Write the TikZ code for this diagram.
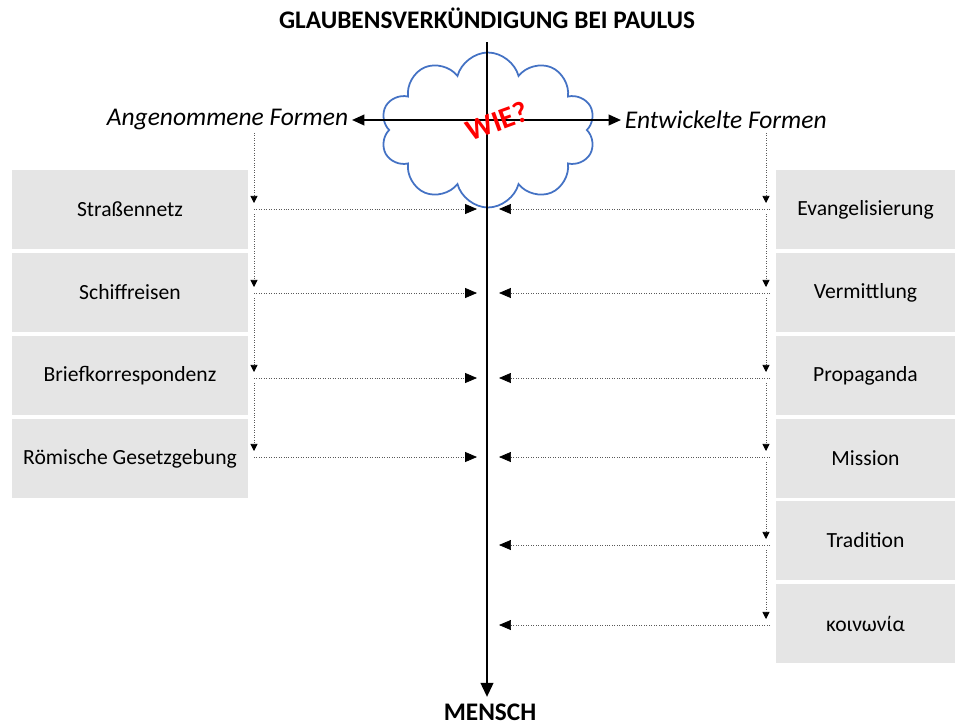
\documentclass[tikz,border=0pt]{standalone}
\usepackage{fontspec}
\setmainfont{Carlito}
\usetikzlibrary{arrows.meta,shapes.symbols}

\begin{document}
\begin{tikzpicture}[x=0.02cm,y=-0.02cm]
  \definecolor{boxgray}{RGB}{229,229,229}
  \definecolor{cloudblue}{RGB}{68,114,196}
  \tikzset{
    formbox/.style={fill=boxgray, minimum height=1.58cm, inner sep=0pt, font=\fontsize{12.3}{14}\selectfont},
    feed/.style={densely dotted, line width=0.4pt, gray!70!black},
    feedtip/.style={-{Triangle[length=6.8pt,width=5.7pt,black]}},
    droptip/.style={-{Triangle[length=4pt,width=4pt,black]}},
    sidelabel/.style={font=\fontsize{14.5}{17}\selectfont\itshape, inner sep=2pt},
    headline/.style={font=\fontsize{14.4}{17}\selectfont\bfseries},
  }
  \useasboundingbox (0,0) rectangle (955,724);
  % cloud behind the axes
  \node[cloud, cloud puffs=10, cloud ignores aspect, draw=cloudblue, fill=white, line width=1pt,
        minimum width=4.3cm, minimum height=3.1cm] (wolke) at (488,130) {};
  % axis
  \node[headline] (title) at (487,18) {GLAUBENSVERKÜNDIGUNG BEI PAULUS};
  \node[headline] (mensch) at (490,712) {MENSCH};
  \coordinate (axtop) at (487,42);
  \draw[line width=1.6pt, -{Triangle[length=8pt,width=7pt]}] (axtop) -- (487,697);
  \node[sidelabel, anchor=east] (angen) at (352,120) {Angenommene Formen};
  \node[sidelabel, anchor=west] (entw) at (621,120) {Entwickelte Formen};
  \draw[line width=1.1pt, {Triangle[length=7pt,width=6pt]}-{Triangle[length=7pt,width=6pt]}] (angen.east) -- (entw.west);
  \node[rotate=20, text=red, font=\fontsize{17}{20}\selectfont\bfseries] (wie) at (497,121) {WIE?};
  % left: adopted forms
  \foreach \lbl/\by/\ay [count=\i, remember=\ay as \prev (initially 128)] in
    {Straßennetz/209.5/209, Schiffreisen/292.5/293, Briefkorrespondenz/375.5/378, Römische Gesetzgebung/458.5/457} {
    \node[formbox, minimum width=4.72cm] (l\i) at (130,\by) {\lbl};
    \coordinate (la\i) at (254,\ay);
    \coordinate (lb\i) at (477,\ay);
    \draw[feed, droptip] (254,\prev+5) -- (254,\ay-6);
    \draw[feed, feedtip] (la\i) -- (lb\i);
  }
  % right: developed forms
  \foreach \lbl/\by/\ay [count=\i, remember=\ay as \prev (initially 128)] in
    {Evangelisierung/209.5/209, Vermittlung/292.5/293, Propaganda/375.5/378, Mission/458.5/457, Tradition/540.5/545, κοινωνία/623.5/625} {
    \node[formbox, minimum width=3.58cm] (r\i) at (865.5,\by) {\lbl};
    \coordinate (ra\i) at (770,\ay);
    \coordinate (rb\i) at (499,\ay);
    \draw[feed, droptip] (766,\prev+5) -- (766,\ay-6);
    \draw[feed, feedtip] (ra\i) -- (rb\i);
  }
\end{tikzpicture}
\end{document}
